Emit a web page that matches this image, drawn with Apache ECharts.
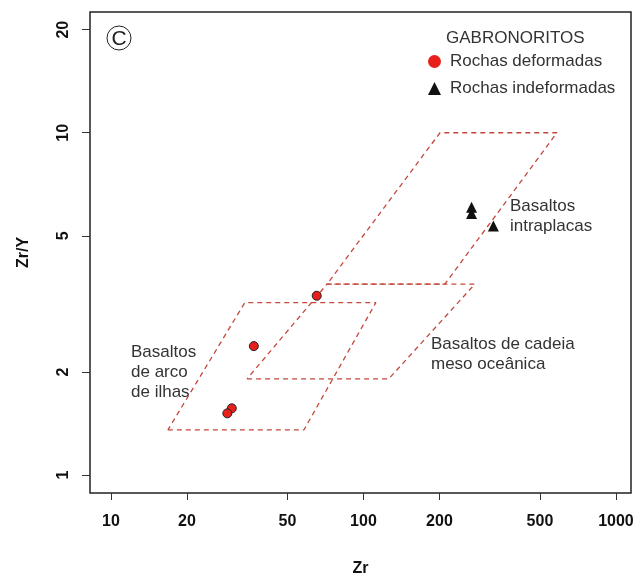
<!DOCTYPE html>
<html>
<head>
<meta charset="utf-8">
<script src="https://cdn.jsdelivr.net/npm/echarts@6/dist/echarts.min.js"></script>
<style>
html,body{margin:0;padding:0;background:#fff;}
#chart{width:639px;height:575px;}
</style>
</head>
<body>
<div id="chart"></div>
<script>
// ---- data ----
const xTicks = [10, 20, 50, 100, 200, 500, 1000];
const yTicks = [1, 2, 5, 10, 20];
const xRange = [8.26, 1147];
const yRange = [0.886, 22.53];

// field boundaries (Zr, Zr/Y)
const arcField  = [[16.8, 1.354], [58.1, 1.354], [112, 3.19], [33.9, 3.19]];
const morbField = [[34.6, 1.91], [126, 1.91], [276, 3.61], [71.7, 3.61]];
const wpbField  = [[71.7, 3.61], [210, 3.61], [584, 10], [201, 10]];

// samples
const deformedZr   = [65.3, 36.8, 30.1, 28.9];
const deformedZrY  = [3.34, 2.38, 1.566, 1.514];
const undeformedZr  = [268, 268, 327];
const undeformedZrY = [6.06, 5.81, 5.34];

const legendTitle = 'GABRONORITOS';
const seriesNames = ['Rochas deformadas', 'Rochas indeformadas'];
const fieldLabels = ['Basaltos\nintraplacas', 'Basaltos de cadeia\nmeso oceânica', 'Basaltos\nde arco\nde ilhas'];

// ---- chart ----
const FONT = '"Liberation Sans", Arial, Helvetica, sans-serif';
const fieldColor = '#c4473b';
const closed = f => f.concat([f[0]]);
const zip = (a, b) => a.map((v, i) => [v, b[i]]);

const fieldSeries = [arcField, morbField, wpbField].map(f => ({
  type: 'line',
  data: closed(f),
  symbol: 'none',
  silent: true,
  z: 1,
  lineStyle: { color: fieldColor, width: 1.3, type: [5, 4] }
}));

const chart = echarts.init(document.getElementById('chart'), null, { renderer: 'canvas' });
chart.setOption({
  animation: false,
  backgroundColor: '#fff',
  grid: { left: 90, top: 12, right: 8, bottom: 82, outerBoundsMode: 'none', containLabel: false,
          show: true, borderColor: '#222', borderWidth: 1.5, backgroundColor: 'transparent' },
  xAxis: {
    type: 'log', logBase: 10, min: xRange[0], max: xRange[1],
    name: 'Zr', nameLocation: 'middle', nameGap: 68,
    nameTextStyle: { fontFamily: FONT, fontWeight: 'bold', fontSize: 16, color: '#111' },
    axisLine: { show: false },
    axisTick: { show: true, length: 7, customValues: xTicks, lineStyle: { color: '#333', width: 1 } },
    axisLabel: { customValues: xTicks, margin: 21, fontFamily: FONT, fontWeight: 'bold', fontSize: 16, color: '#111',
                 formatter: v => String(Math.round(v)) },
    splitLine: { show: false }, minorTick: { show: false }
  },
  yAxis: {
    type: 'log', logBase: 10, min: yRange[0], max: yRange[1],
    name: 'Zr/Y', nameLocation: 'middle', nameGap: 58, nameRotate: 90,
    nameTextStyle: { fontFamily: FONT, fontWeight: 'bold', fontSize: 16, color: '#111' },
    axisLine: { show: false },
    axisTick: { show: true, length: 8, customValues: yTicks, lineStyle: { color: '#333', width: 1 } },
    axisLabel: { customValues: yTicks, rotate: 90, margin: 18, fontFamily: FONT, fontWeight: 'bold', fontSize: 16, color: '#111',
                 formatter: v => String(Math.round(v)) },
    splitLine: { show: false }, minorTick: { show: false }
  },
  legend: {
    orient: 'vertical', left: 423, top: 48,
    itemWidth: 13, itemHeight: 13, itemGap: 10,
    textStyle: { fontFamily: FONT, fontSize: 17, color: '#333', padding: [0, 0, 0, 4] },
    data: [
      { name: seriesNames[0], icon: 'circle', itemStyle: { color: '#e8201c', borderWidth: 0 } },
      { name: seriesNames[1], icon: 'triangle', itemStyle: { color: '#111', borderWidth: 0 } }
    ],
    selectedMode: false
  },
  graphic: [
    { type: 'circle', shape: { cx: 119, cy: 38, r: 12 }, style: { fill: 'none', stroke: '#222', lineWidth: 1 } },
    { type: 'text', x: 119, y: 39, style: { text: 'C', fontFamily: FONT, fontSize: 21, fill: '#222', align: 'center', verticalAlign: 'middle' } },
    { type: 'text', left: 446, top: 30, style: { text: legendTitle, fontFamily: FONT, fontSize: 17, fill: '#333' } },
    { type: 'text', left: 510, top: 196, style: { text: fieldLabels[0], fontFamily: FONT, fontSize: 17, lineHeight: 20.5, fill: '#333' } },
    { type: 'text', left: 431, top: 334, style: { text: fieldLabels[1], fontFamily: FONT, fontSize: 17, lineHeight: 20, fill: '#333' } },
    { type: 'text', left: 131, top: 342, style: { text: fieldLabels[2], fontFamily: FONT, fontSize: 17, lineHeight: 20, fill: '#333' } }
  ],
  series: fieldSeries.concat([
    {
      name: seriesNames[0], type: 'scatter', z: 5,
      data: zip(deformedZr, deformedZrY),
      symbol: 'circle', symbolSize: 9,
      itemStyle: { color: '#e8201c', borderColor: '#222', borderWidth: 1, opacity: 1 }
    },
    {
      name: seriesNames[1], type: 'scatter', z: 5,
      data: zip(undeformedZr, undeformedZrY),
      symbol: 'triangle', symbolSize: 11,
      itemStyle: { color: '#111', opacity: 1 }
    }
  ])
});
</script>
</body>
</html>
